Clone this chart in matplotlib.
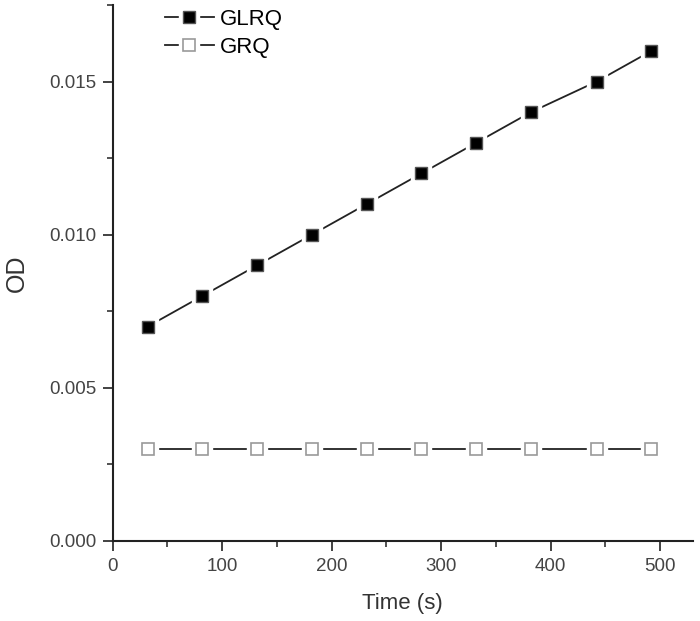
import matplotlib
matplotlib.use("Agg")
import matplotlib.pyplot as plt
from matplotlib.ticker import MultipleLocator
from matplotlib.legend_handler import HandlerTuple

plt.rcParams["font.family"] = ["Liberation Sans", "DejaVu Sans"]

# ── Data ──────────────────────────────────────────────────────────────
time_s = [32, 82, 132, 182, 232, 282, 332, 382, 442, 492]
od_glrq = [0.007, 0.008, 0.009, 0.010, 0.011, 0.012, 0.013, 0.014, 0.015, 0.016]
od_grq = [0.003, 0.003, 0.003, 0.003, 0.003, 0.003, 0.003, 0.003, 0.003, 0.003]

fig = plt.figure(figsize=(7.0, 6.21), dpi=100)
ax = fig.add_axes([0.161, 0.129, 0.829, 0.863])

# lines with a small gap round each marker (white halo under the marker)
ax.plot(time_s, od_glrq, color="#222222", lw=1.3, zorder=2)
ax.plot(time_s, od_grq, color="#222222", lw=1.3, zorder=2)
ax.plot(time_s, od_glrq, "s", ms=14, color="white", mec="white", zorder=3)
ax.plot(time_s, od_grq, "s", ms=14, color="white", mec="white", zorder=3)
ax.plot(time_s, od_glrq, "s", ms=9, color="black", mec="#555555", mew=1, zorder=4)
ax.plot(time_s, od_grq, "s", ms=9, color="white", mec="#999999", mew=1.2, zorder=4)

# legend proxies: line + white halo + marker drawn on top of each other
line_p, = ax.plot([], [], "-", color="#222222", lw=1.3)
halo_p, = ax.plot([], [], "s", ms=14, color="white", mec="white")
m1_p, = ax.plot([], [], "s", ms=9, color="black", mec="#555555", mew=1)
m2_p, = ax.plot([], [], "s", ms=9, color="white", mec="#999999", mew=1.2)
ax.legend([(line_p, halo_p, m1_p), (line_p, halo_p, m2_p)], ["GLRQ", "GRQ"],
          handler_map={tuple: HandlerTuple(ndivide=1)},
          loc="upper left", bbox_to_anchor=(0.055, 1.03),
          frameon=False, numpoints=1, handlelength=2.2, handletextpad=0.3,
          labelspacing=0.3, fontsize=16)

ax.set_xlim(0, 530)
ax.set_ylim(0, 0.0175)
ax.xaxis.set_major_locator(MultipleLocator(100))
ax.xaxis.set_minor_locator(MultipleLocator(50))
ax.yaxis.set_major_locator(MultipleLocator(0.005))
ax.yaxis.set_minor_locator(MultipleLocator(0.0025))
ax.yaxis.set_major_formatter(matplotlib.ticker.FormatStrFormatter("%.3f"))

for side in ["top", "right"]:
    ax.spines[side].set_visible(False)
for side in ["left", "bottom"]:
    ax.spines[side].set_color("#222222")
    ax.spines[side].set_linewidth(1.5)

ax.tick_params(which="major", direction="out", length=7, width=1.3,
               color="#333333", labelsize=13.5, labelcolor="#444444", pad=5)
ax.tick_params(which="minor", direction="out", length=4, width=1.2, color="#333333")

ax.set_xlabel("Time (s)", fontsize=16, color="#333333", labelpad=13)
ax.set_ylabel("OD", fontsize=18, color="#333333", labelpad=14)

fig.savefig("out.png", dpi=100, facecolor="white")
